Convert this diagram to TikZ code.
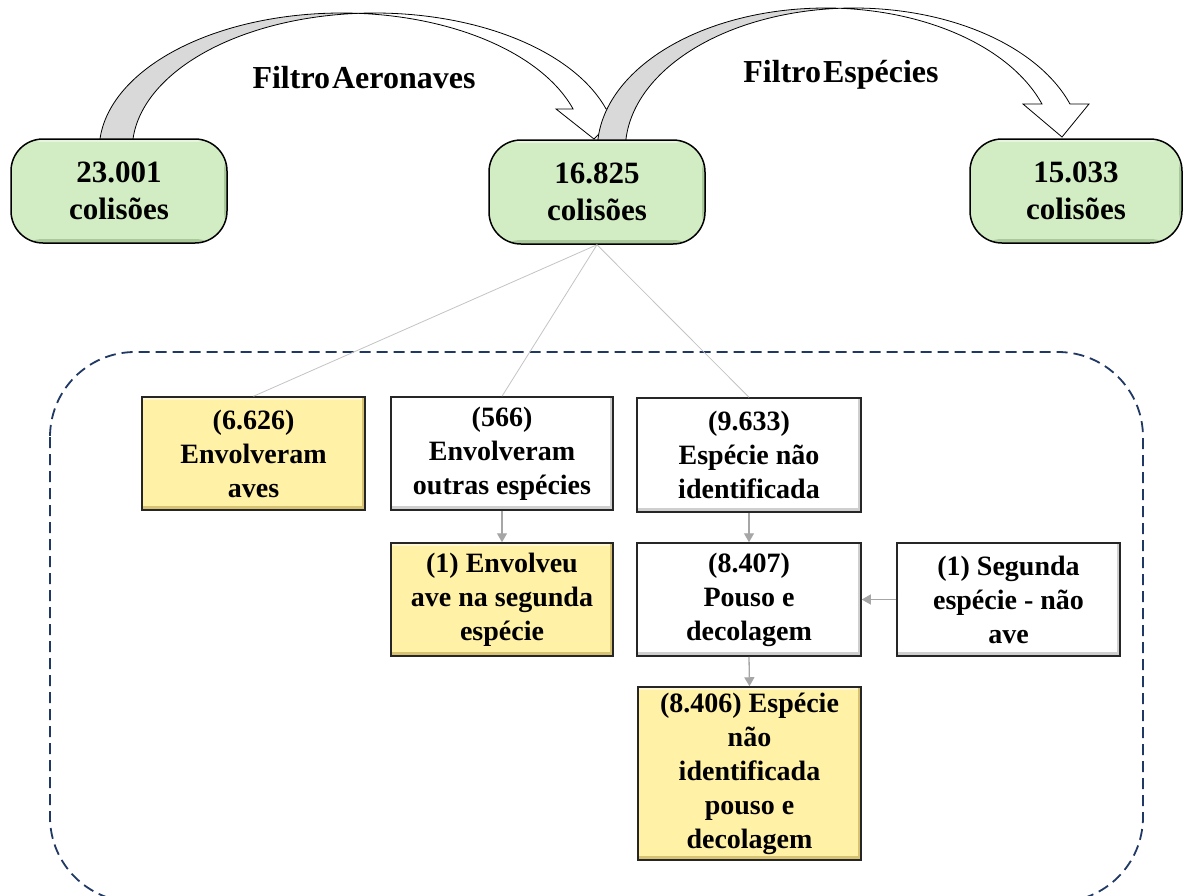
\documentclass[tikz,border=0pt]{standalone}
\usepackage{fontspec}
\setmainfont{Liberation Serif}
\usetikzlibrary{arrows.meta}
\definecolor{gfill}{HTML}{D2ECC3}
\definecolor{grim}{HTML}{A9C99A}
\definecolor{glight}{HTML}{E6F5DC}
\definecolor{yfill}{HTML}{FFF1A6}
\definecolor{yrim}{HTML}{D6C270}
\definecolor{ylight}{HTML}{FFF8D2}
\definecolor{wrim}{HTML}{CFCFCF}
\definecolor{dashc}{HTML}{203864}
\definecolor{linec}{HTML}{C4C4C4}
\definecolor{arrc}{HTML}{A6A6A6}
\definecolor{bandc}{HTML}{D9D9D9}
% #1 cx, #2 a, #3 shift w, #4 cy, #5 b, #6 head angle, #7 barb overhang, #8 tip x, #9 tip y
\newcommand\curvedblockarrow[9]{%
  \pgfmathsetmacro\cbaA{acos(#3/(2*#2))}%
  \pgfmathsetmacro\cbaB{180-\cbaA}%
  \pgfmathsetmacro\cbaXi{#1+#2*cos(#6)}%
  \pgfmathsetmacro\cbaXo{#1+#3+#2*cos(#6)}%
  \pgfmathsetmacro\cbaY{#4-#5*sin(#6)}%
  \path[frontband] plot[domain=\cbaA:#6,samples=80,variable=\t] ({#1+#2*cos(\t)},{#4-#5*sin(\t)})
     -- (\cbaXi-#7,\cbaY) -- (#8,#9) -- (\cbaXo+#7,\cbaY) -- (\cbaXo,\cbaY)
     -- plot[domain=#6:\cbaB,samples=80,variable=\t] ({#1+#3+#2*cos(\t)},{#4-#5*sin(\t)}) -- cycle;
  \path[backband] (#1-#2,#4) -- plot[domain=180:\cbaA,samples=80,variable=\t] ({#1+#2*cos(\t)},{#4-#5*sin(\t)})
     -- plot[domain=\cbaB:180,samples=80,variable=\t] ({#1+#3+#2*cos(\t)},{#4-#5*sin(\t)})
     -- cycle;
}
\begin{document}
\begin{tikzpicture}[x=1pt,y=-1pt,
  rim/.style n args={3}{path picture={
    \fill[#1] (path picture bounding box.north west) rectangle ([yshift=-3pt]path picture bounding box.north east);
    \fill[#2] (path picture bounding box.south west) rectangle ([yshift=4pt]path picture bounding box.south east);
    \fill[#3] ([xshift=-3pt]path picture bounding box.north east) rectangle (path picture bounding box.south east);
  }},
  greenbox/.style={draw=black, line width=1.5pt, fill=gfill, rim={glight}{grim}{grim}, rounded corners=32pt, minimum width=216pt, minimum height=104pt, align=center, font=\fontsize{31}{37}\selectfont\bfseries, inner sep=0pt},
  infobox/.style={draw=black!85, line width=1.5pt, minimum width=223pt, minimum height=113pt, align=center, font=\fontsize{28}{34}\selectfont\bfseries, inner sep=0pt},
  yellowbox/.style={infobox, fill=yfill, rim={ylight}{yrim}{yrim}},
  whitebox/.style={infobox, fill=white, rim={white}{wrim}{wrim}},
  thinlink/.style={draw=linec, line width=0.8pt},
  flowarrow/.style={draw=arrc, line width=1.3pt, -{Triangle[length=9pt,width=10pt]}},
  backband/.style={fill=bandc, draw=black, line width=0.8pt},
  frontband/.style={fill=white, draw=black, line width=0.8pt},
  title/.style={font=\fontsize{32}{36}\selectfont\bfseries, inner sep=0pt}
]
\useasboundingbox (0,0) rectangle (1184,895);
\fill[white] (0,0) rectangle (1184,895);

% dashed group frame
\draw[dashc, line width=1.8pt, dash pattern=on 11pt off 6pt, rounded corners=85pt] (50,352) rectangle (1143,902);

% curved block arrows
\curvedblockarrow{341.7}{242.5}{33}{150}{137}{17.41}{17}{594}{139}
\curvedblockarrow{825.8}{228.5}{28}{150}{142}{18.9}{19}{1062}{137}

\node[title] (t1) at (364,78) {Filtro\hspace{2pt}Aeronaves};
\node[title] (t2) at (841,75) {Filtro\hspace{2pt}Espécies};

% top nodes
\node[greenbox] (g1) at (119,191) {23.001\\colisões};
\node[greenbox] (g2) at (597,192) {16.825\\colisões};
\node[greenbox, minimum width=212pt] (g3) at (1076,191) {15.033\\colisões};

% detail boxes
\node[yellowbox] (b1) at (253.5,453.5) {(6.626)\\Envolveram\\aves};
\node[whitebox, minimum width=222pt] (b2) at (502,453.5) {(566)\\Envolveram\\outras espécies};
\node[whitebox, minimum width=224pt, minimum height=114pt] (b3) at (749,455) {(9.633)\\Espécie não\\identificada};
\node[yellowbox, minimum width=222pt] (b4) at (502,599.5) {(1) Envolveu\\ave na segunda\\espécie};
\node[whitebox, minimum width=224pt] (b5) at (749,599.5) {(8.407)\\Pouso e\\decolagem};
\node[whitebox] (b6) at (1008.5,599.5) {(1) Segunda\\espécie - não\\ave};
\node[yellowbox, minimum height=173pt] (b7) at (749.5,773.5) {(8.406) Espécie\\não\\identificada\\pouso e\\decolagem};

% links
\draw[thinlink] (g2.south) -- (b1.north);
\draw[thinlink] (g2.south) -- (b2.north);
\draw[thinlink] (g2.south) -- (b3.north);
\draw[flowarrow] (b2.south) -- (b4.north);
\draw[flowarrow] (b3.south) -- (b5.north);
\draw[flowarrow] (b6.west) -- (b5.east);
\draw[flowarrow] (b5.south) -- (b7.north);
\end{tikzpicture}
\end{document}
